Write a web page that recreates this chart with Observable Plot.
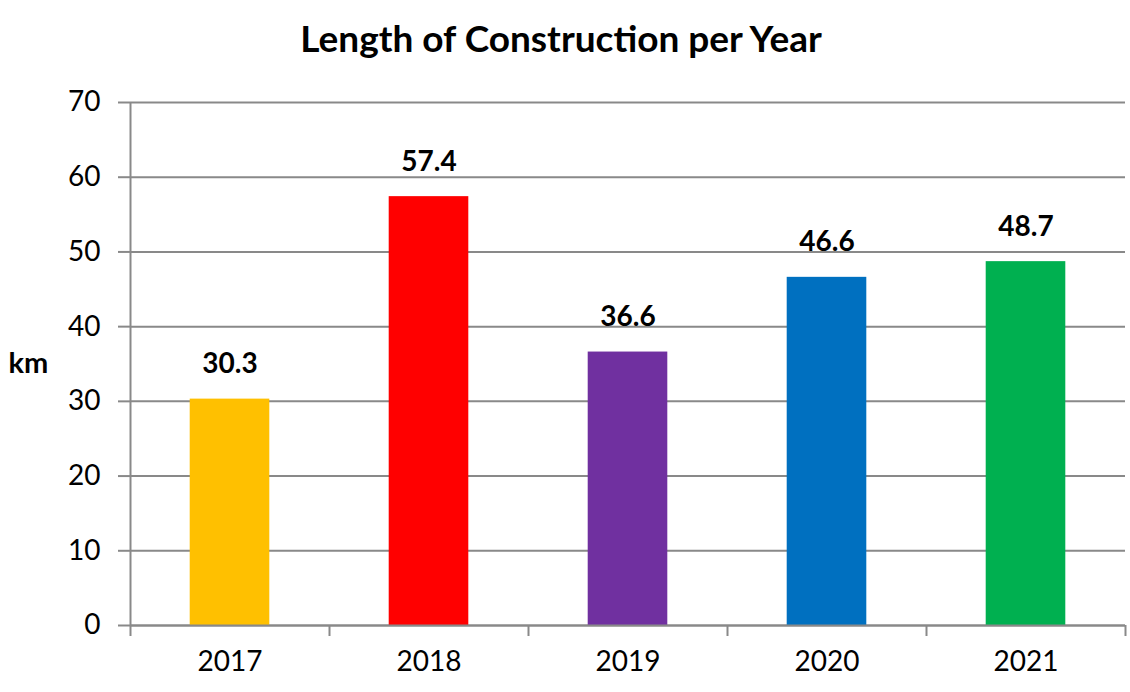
<!DOCTYPE html>
<html>
<head>
<meta charset="utf-8">
<script src="https://cdn.jsdelivr.net/npm/d3@7"></script>
<script src="https://cdn.jsdelivr.net/npm/@observablehq/plot@0.6"></script>
<style>
  html, body { margin: 0; padding: 0; background: #fff; }
  #title { width: 1122px; height: 80px; line-height: 76px; text-align: center;
           font-family: Lato, sans-serif; font-weight: bold; font-size: 37px; color: #000; }
</style>
</head>
<body>
<div id="title">Length of Construction per Year</div>
<div id="chart"></div>
<script>
const years = [2017, 2018, 2019, 2020, 2021];
const values = [30.3, 57.4, 36.6, 46.6, 48.7];
const colors = ["#FFC000", "#FF0000", "#7030A0", "#0070C0", "#00B050"];
const yTicks = [0, 10, 20, 30, 40, 50, 60, 70];
const yLabel = "km";

const data = years.map((y, i) => ({year: y, value: values[i], color: colors[i]}));
const boundaries = [years[0] - 0.5, ...years.map(y => y + 0.5)];
const halfBar = 0.2;
const gray = "#898989";
const font = "Lato, sans-serif";

const chart = Plot.plot({
  width: 1130,
  height: 612,
  marginTop: 22,
  marginBottom: 67,
  marginLeft: 130,
  marginRight: 5,
  style: {fontFamily: font, fontSize: "28px", color: "#000", background: "#fff"},
  x: {domain: [boundaries[0], boundaries[boundaries.length - 1]], axis: null},
  y: {domain: [0, 70], axis: null},
  marks: [
    Plot.gridY(yTicks, {stroke: gray, strokeOpacity: 1, strokeWidth: 2}),
    Plot.axisY(yTicks, {tickSize: 12, tickPadding: 18, stroke: gray, strokeWidth: 2, fontSize: 28, label: null}),
    Plot.rectY(data, {x1: d => d.year - halfBar, x2: d => d.year + halfBar, y: "value", fill: "color"}),
    Plot.ruleY([0], {stroke: gray, strokeWidth: 2}),
    Plot.ruleX([boundaries[0]], {stroke: gray, strokeWidth: 2}),
    Plot.axisX(boundaries, {tickSize: 11, tickFormat: () => "", stroke: gray, strokeWidth: 2, label: null}),
    Plot.axisX(years, {tickSize: 0, tickPadding: 26, tickFormat: d => String(d), fontSize: 28, label: null}),
    Plot.text(data, {x: "year", y: "value", text: d => d.value.toFixed(1), dy: -35, fontWeight: "bold", fontSize: 28, fill: "#000"}),
    Plot.text([yLabel], {frameAnchor: "left", dx: -122, textAnchor: "start", fontWeight: "bold", fontSize: 29, fill: "#000"})
  ]
});
document.getElementById("chart").appendChild(chart);
</script>
</body>
</html>
